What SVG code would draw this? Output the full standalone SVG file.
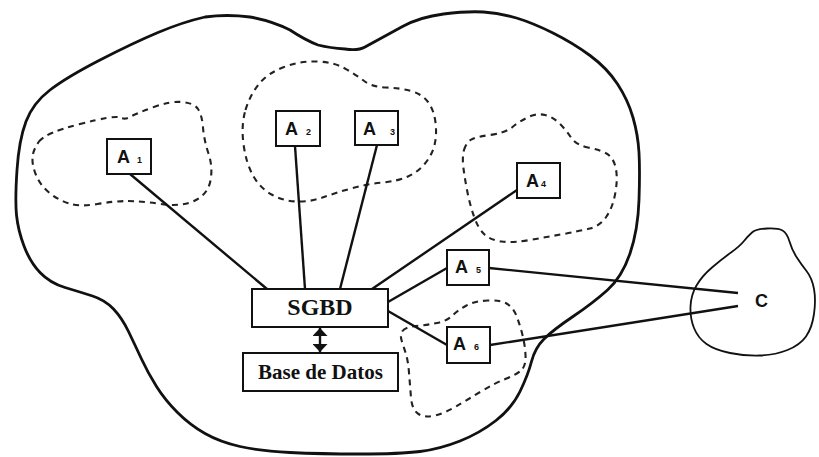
<svg xmlns="http://www.w3.org/2000/svg" width="819" height="457" viewBox="0 0 819 457">
  <style>
    .blob { fill: none; stroke: #111; stroke-width: 2.8; stroke-linejoin: round; }
    .blob-c { fill: none; stroke: #111; stroke-width: 1.8; }
    .zone { fill: none; stroke: #222; stroke-width: 2.1; stroke-dasharray: 6 5; }
    .link { stroke: #111; stroke-width: 2.4; fill: none; }
    .box { fill: #fff; stroke: #111; stroke-width: 2; }
    .app { font-family: "Liberation Sans", Arial, sans-serif; font-weight: bold; font-size: 18px; fill: #111; }
    .sub { font-family: "Liberation Sans", Arial, sans-serif; font-weight: bold; font-size: 9px; fill: #111; }
    .serif { font-family: "Liberation Serif", "Times New Roman", serif; font-weight: bold; fill: #111; text-anchor: middle; }
  </style>
  <defs>
    <marker id="head" viewBox="0 0 10 10" refX="10" refY="5" markerUnits="userSpaceOnUse" markerWidth="8" markerHeight="15" preserveAspectRatio="none" orient="auto-start-reverse">
      <path d="M0,0 L10,5 L0,10 Z" fill="#111"/>
    </marker>
  </defs>

  <rect width="819" height="457" fill="#fff"/>

  <!-- organisation boundary -->
  <path id="organizacion" class="blob" d="M 17,170 Q 19,140 26,121.5 Q 33,103 50,90 Q 67,77 100,60 Q 133,43 158,32.5 Q 183,22 205,17 Q 227,14 250,17 Q 272,21 290,30 Q 305,40 318,45 Q 330,48 345,49 Q 358,51 365,47 Q 385,36 402.5,26.5 Q 420,17 443.5,14 Q 467,11 483.5,12 Q 500,13 516.5,18 Q 533,23 553,33 Q 573,43 590,55.5 Q 607,68 617.5,84 Q 628,100 633,117.5 Q 638,135 639,152.5 Q 640,170 639,200 Q 638,230 630,253.5 Q 622,277 607.5,290 Q 593,303 573,316.5 Q 553,330 544,339 Q 535,348 531.5,361.5 Q 528,375 520,391.5 Q 512,408 496,420.5 Q 480,433 460,441 Q 440,449 420,451.5 Q 400,454 360,454 Q 320,454 290,452.5 Q 260,451 240,446.5 Q 220,442 205,433.5 Q 190,425 177.5,412.5 Q 165,400 156.5,386.5 Q 148,373 141.5,359 Q 135,345 128.5,331.5 Q 122,318 113.5,309 Q 105,300 92.5,296 Q 80,292 65,287.5 Q 50,283 40,272.5 Q 30,262 24,246 Q 18,230 16.5,215 Q 15,200 17,170 Z"/>

  <!-- external user area -->
  <path id="entorno-c" class="blob-c" d="M 752,232.5 Q 756,229 767,228.5 Q 778,228 782.5,230.5 Q 787,233 789.5,241.5 Q 792,250 796.5,257 Q 801,264 806.5,271 Q 812,278 814,289 Q 816,300 814,314 Q 812,328 806,336.5 Q 800,345 787.5,350 Q 775,355 760,355.5 Q 745,356 730,353 Q 715,350 706.5,344 Q 698,338 694,328 Q 690,318 690.5,306.5 Q 691,295 696.5,285.5 Q 702,276 712,267.5 Q 722,259 731,252.5 Q 740,246 744,241 Q 748,236 752,232.5 Z"/>

  <!-- departmental zones -->
  <g id="zonas">
    <path class="zone" d="M 39,141.5 Q 45,133 80,124 Q 115,115 120,117.5 Q 125,120 130,117 Q 135,114 152.5,107.5 Q 170,101 182,102 Q 194,103 198,109 Q 202,115 203,127.5 Q 204,140 208.5,153.5 Q 213,167 210.5,180.5 Q 208,194 195,200.5 Q 182,207 161,204 Q 140,201 127.5,201 Q 115,201 97.5,204 Q 80,207 69,203.5 Q 58,200 49,192.5 Q 40,185 36,175 Q 32,165 32.5,157.5 Q 33,150 39,141.5 Z"/>
    <path class="zone" d="M 245.5,110 Q 250,95 259,84 Q 268,73 284,67 Q 300,61 316.5,61.5 Q 333,62 344,68 Q 355,74 363.5,80.5 Q 372,87 386,87.5 Q 400,88 411,91 Q 422,94 428,102 Q 434,110 435.5,122.5 Q 437,135 434.5,145 Q 432,155 425,163.5 Q 418,172 408,176.5 Q 398,181 382.5,182.5 Q 367,184 351,188.5 Q 335,193 322.5,197.5 Q 310,202 296.5,201.5 Q 283,201 271.5,194.5 Q 260,188 253,175.5 Q 246,163 243.5,144 Q 241,125 245.5,110 Z"/>
    <path class="zone" d="M 464,150 Q 466,143 470.5,140 Q 475,137 490,135 Q 505,133 512.5,127 Q 520,121 528.5,117 Q 537,113 545,115 Q 553,117 559.5,123.5 Q 566,130 571,137.5 Q 576,145 588,147.5 Q 600,150 606.5,153.5 Q 613,157 615.5,167 Q 618,177 615.5,192 Q 613,207 606.5,216.5 Q 600,226 590,228.5 Q 580,231 563.5,234 Q 547,237 530,240 Q 513,243 501.5,241.5 Q 490,240 484,234 Q 478,228 474,216.5 Q 470,205 467.5,192.5 Q 465,180 463.5,168.5 Q 462,157 464,150 Z"/>
    <path class="zone" d="M 402.5,331 Q 405,327 416,326 Q 427,325 437,323 Q 447,321 452.5,315.5 Q 458,310 466.5,305.5 Q 475,301 487.5,300.5 Q 500,300 506.5,303.5 Q 513,307 516.5,316 Q 520,325 522.5,335 Q 525,345 525.5,355 Q 526,365 522,369.5 Q 518,374 506.5,378.5 Q 495,383 481,391.5 Q 467,400 456,406.5 Q 445,413 435,415.5 Q 425,418 418.5,414 Q 412,410 411,397.5 Q 410,385 409,372.5 Q 408,360 405.5,352.5 Q 403,345 401.5,340 Q 400,335 402.5,331 Z"/>
  </g>

  <!-- connectors -->
  <g id="conexiones">
    <line class="link" x1="130" y1="174" x2="267" y2="289"/>
    <line class="link" x1="295" y1="146" x2="305" y2="289"/>
    <line class="link" x1="377" y1="145" x2="340" y2="289"/>
    <line class="link" x1="517" y1="190" x2="372" y2="289"/>
    <line class="link" x1="388" y1="302" x2="447" y2="268"/>
    <line class="link" x1="388" y1="311" x2="447" y2="345"/>
    <line class="link" x1="489" y1="268" x2="738" y2="293"/>
    <line class="link" x1="490" y1="345" x2="738" y2="306"/>
    <line class="link" x1="320" y1="328" x2="320" y2="352" marker-start="url(#head)" marker-end="url(#head)"/>
  </g>

  <!-- nodes -->
  <g id="a1">
    <rect class="box" x="107" y="139" width="44" height="35"/>
    <text class="app" x="117" y="163">A</text><text class="sub" x="137" y="163">1</text>
  </g>
  <g id="a2">
    <rect class="box" x="276" y="111" width="44" height="35"/>
    <text class="app" x="285" y="135">A</text><text class="sub" x="306" y="135">2</text>
  </g>
  <g id="a3">
    <rect class="box" x="355" y="111" width="43" height="34"/>
    <text class="app" x="363" y="135">A</text><text class="sub" x="390" y="135">3</text>
  </g>
  <g id="a4">
    <rect class="box" x="517" y="163" width="43" height="35"/>
    <text class="app" x="526" y="187">A</text><text class="sub" x="541" y="187">4</text>
  </g>
  <g id="a5">
    <rect class="box" x="447" y="250" width="42" height="35"/>
    <text class="app" x="455" y="273">A</text><text class="sub" x="476" y="273">5</text>
  </g>
  <g id="a6">
    <rect class="box" x="447" y="327" width="43" height="36"/>
    <text class="app" x="453" y="350">A</text><text class="sub" x="474" y="350">6</text>
  </g>
  <g id="sgbd">
    <rect class="box" x="252" y="289" width="136" height="38"/>
    <text class="serif" x="320" y="315" font-size="24">SGBD</text>
  </g>
  <g id="base-datos">
    <rect class="box" x="243" y="353" width="155" height="38"/>
    <text class="serif" x="320.5" y="379" font-size="21">Base de Datos</text>
  </g>
  <g id="c">
    <text class="app" x="755" y="307">C</text>
  </g>
</svg>
